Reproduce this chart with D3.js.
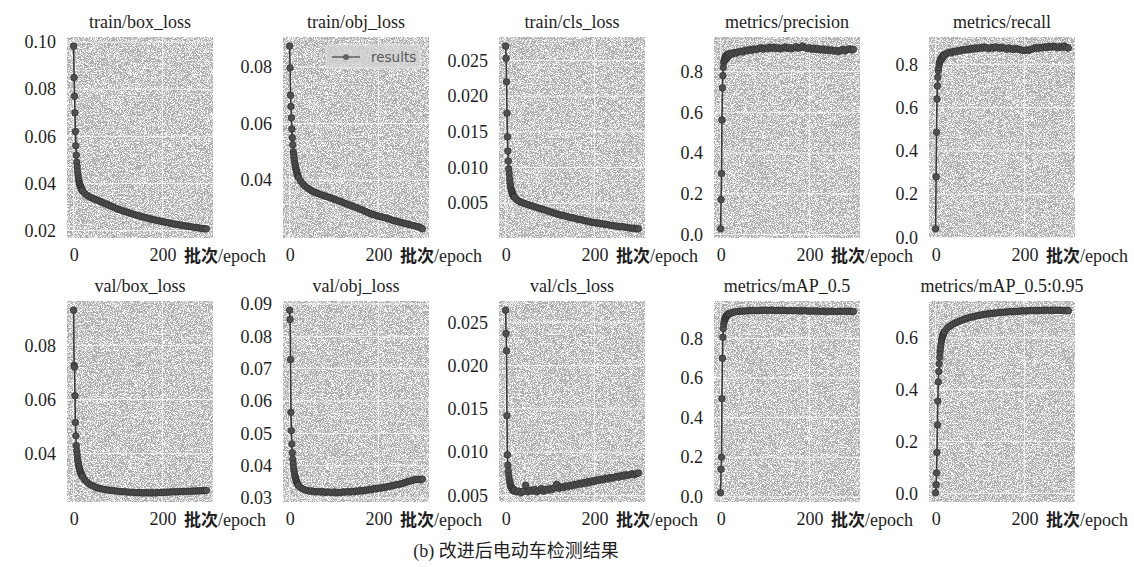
<!DOCTYPE html>
<html>
<head>
<meta charset="utf-8">
<script src="https://cdn.jsdelivr.net/npm/d3@7"></script>
<style>
  body { margin: 0; background: #fff; }
  svg { display: block; }
</style>
</head>
<body>
<svg id="chart" width="1134" height="567"></svg>
<script>
// epochs that were sampled off the picture
const epochs = [0,1,2,3,4,5,6,7,8,9,10,11,12,13,14,15,16,17,18,19,
  20,25,30,35,40,45,50,55,60,65,70,75,80,85,90,95,
  100,105,110,115,120,125,130,135,140,145,150,155,160,165,170,175,
  180,185,190,195,200,205,210,215,220,225,230,235,240,245,250,255,
  260,265,270,275,280,285,290,295,299];

const trainBoxLoss = [0.0983,0.085,0.077,0.070,0.062,0.056,0.052,0.049,0.047,0.045,0.0435,0.042,0.041,0.040,0.0395,0.039,0.0385,0.038,0.0376,0.0372,
  0.0368,0.0358,0.0350,0.0344,0.0339,0.0335,0.0331,0.0327,0.0323,0.0319,0.0315,0.0311,0.0307,0.0303,0.0299,0.0295,
  0.0290,0.0287,0.0284,0.0281,0.0278,0.0275,0.0272,0.0269,0.0266,0.0263,0.0261,0.0258,0.0256,0.0253,0.0251,0.0248,
  0.0246,0.0244,0.0242,0.0240,0.0238,0.0236,0.0234,0.0232,0.0230,0.0228,0.0226,0.0225,0.0223,0.0222,0.0220,0.0219,
  0.0217,0.0216,0.0214,0.0213,0.0212,0.0210,0.0209,0.0208,0.0207];

const trainObjLoss = [0.0873,0.0796,0.0700,0.0660,0.0620,0.0580,0.0550,0.0525,0.0500,0.0490,0.0480,0.0468,0.0458,0.0449,0.0441,0.0434,0.0428,0.0422,0.0417,0.0413,
  0.0409,0.0396,0.0386,0.0378,0.0372,0.0367,0.0362,0.0358,0.0355,0.0352,0.0349,0.0346,0.0344,0.0341,0.0339,0.0336,
  0.0333,0.0330,0.0327,0.0324,0.0321,0.0318,0.0315,0.0312,0.0309,0.0306,0.0303,0.0300,0.0297,0.0294,0.0290,0.0287,
  0.0283,0.0280,0.0278,0.0275,0.0273,0.0271,0.0269,0.0267,0.0265,0.0262,0.0259,0.0257,0.0255,0.0253,0.0251,0.0249,
  0.0247,0.0245,0.0243,0.0241,0.0239,0.0237,0.0235,0.0232,0.0228];

const trainClsLoss = [0.0270,0.0253,0.0220,0.0176,0.0143,0.0123,0.0109,0.0098,0.0091,0.0084,0.0078,0.0074,0.0071,0.0068,0.0066,0.0064,0.0062,0.0061,0.0060,0.0059,
  0.0058,0.0055,0.0053,0.0051,0.0050,0.0049,0.0048,0.0047,0.0046,0.0045,0.0044,0.0043,0.0042,0.0041,0.0040,0.0039,
  0.0038,0.0037,0.0036,0.0035,0.0034,0.0033,0.0033,0.0032,0.0031,0.0030,0.0030,0.0029,0.0028,0.0027,0.0027,0.0026,
  0.0025,0.0025,0.0024,0.0023,0.0023,0.0022,0.0022,0.0021,0.0021,0.0020,0.0020,0.0019,0.0019,0.0018,0.0018,0.0017,
  0.0017,0.0017,0.0016,0.0016,0.0015,0.0015,0.0015,0.0014,0.0014];

const precision = [0.028,0.172,0.300,0.563,0.720,0.780,0.820,0.845,0.855,0.860,0.870,0.858,0.878,0.865,0.880,0.872,0.884,0.876,0.886,0.880,
  0.889,0.885,0.893,0.890,0.897,0.900,0.896,0.905,0.902,0.908,0.904,0.911,0.907,0.913,0.918,0.910,
  0.916,0.912,0.919,0.914,0.920,0.913,0.917,0.911,0.916,0.921,0.914,0.918,0.912,0.917,0.922,0.915,
  0.919,0.925,0.917,0.913,0.918,0.910,0.915,0.908,0.913,0.906,0.911,0.904,0.909,0.902,0.907,0.900,
  0.905,0.898,0.904,0.909,0.902,0.907,0.912,0.906,0.910];

const recall = [0.040,0.280,0.486,0.640,0.700,0.740,0.770,0.785,0.800,0.808,0.815,0.820,0.825,0.822,0.830,0.835,0.832,0.840,0.838,0.845,
  0.842,0.850,0.855,0.852,0.860,0.858,0.864,0.861,0.868,0.865,0.871,0.867,0.874,0.870,0.876,0.872,
  0.878,0.874,0.880,0.876,0.872,0.878,0.875,0.881,0.877,0.873,0.879,0.875,0.870,0.876,0.872,0.868,
  0.874,0.870,0.868,0.865,0.863,0.867,0.864,0.869,0.873,0.877,0.873,0.879,0.875,0.881,0.877,0.883,
  0.879,0.884,0.880,0.876,0.882,0.878,0.884,0.879,0.875];

const valBoxLoss = [0.0930,0.0726,0.0720,0.0614,0.0515,0.0466,0.0430,0.0410,0.0395,0.0380,0.0370,0.0360,0.0352,0.0345,0.0339,0.0334,0.0329,0.0325,0.0321,0.0318,
  0.0315,0.0303,0.0295,0.0288,0.0283,0.0279,0.0276,0.0273,0.0271,0.0269,0.0267,0.0266,0.0265,0.0264,0.0263,0.0262,
  0.0261,0.0260,0.0259,0.0259,0.0258,0.0258,0.0257,0.0257,0.0256,0.0256,0.0256,0.0255,0.0255,0.0255,0.0255,0.0255,
  0.0255,0.0255,0.0256,0.0256,0.0256,0.0257,0.0257,0.0258,0.0258,0.0259,0.0259,0.0259,0.0260,0.0260,0.0260,0.0261,
  0.0261,0.0261,0.0262,0.0262,0.0262,0.0263,0.0263,0.0263,0.0264];

const valObjLoss = [0.0881,0.0852,0.0728,0.0565,0.0508,0.0467,0.0440,0.0420,0.0405,0.0393,0.0383,0.0375,0.0368,0.0362,0.0357,0.0353,0.0349,0.0346,0.0343,0.0341,
  0.0339,0.0332,0.0328,0.0325,0.0323,0.0321,0.0322,0.0320,0.0319,0.0321,0.0318,0.0320,0.0317,0.0319,0.0318,0.0317,
  0.0319,0.0316,0.0318,0.0317,0.0319,0.0318,0.0320,0.0318,0.0321,0.0319,0.0322,0.0321,0.0324,0.0322,0.0325,0.0324,
  0.0327,0.0326,0.0329,0.0328,0.0331,0.0330,0.0333,0.0333,0.0335,0.0336,0.0338,0.0339,0.0341,0.0342,0.0344,0.0345,
  0.0348,0.0350,0.0352,0.0354,0.0356,0.0357,0.0358,0.0357,0.0359];

const valClsLoss = [0.0264,0.0237,0.0217,0.0142,0.0097,0.0085,0.0078,0.0073,0.0069,0.0066,0.0064,0.0062,0.0060,0.0059,0.0058,0.0057,0.0058,0.0056,0.0057,0.0055,
  0.0056,0.0054,0.0055,0.0053,0.0055,0.0062,0.0054,0.0056,0.0055,0.0057,0.0054,0.0056,0.0058,0.0055,0.0057,0.0056,
  0.0058,0.0057,0.0059,0.0063,0.0058,0.0060,0.0059,0.0061,0.0060,0.0062,0.0061,0.0063,0.0062,0.0064,0.0063,0.0065,
  0.0064,0.0066,0.0065,0.0067,0.0066,0.0068,0.0067,0.0069,0.0068,0.0070,0.0069,0.0071,0.0070,0.0071,0.0072,0.0071,
  0.0073,0.0072,0.0074,0.0073,0.0074,0.0075,0.0074,0.0075,0.0076];

const mAP50 = [0.020,0.139,0.200,0.495,0.700,0.806,0.850,0.872,0.886,0.895,0.901,0.906,0.910,0.913,0.916,0.918,0.920,0.922,0.924,0.925,
  0.926,0.930,0.933,0.935,0.936,0.937,0.938,0.939,0.940,0.940,0.941,0.941,0.942,0.941,0.942,0.942,
  0.943,0.942,0.942,0.943,0.942,0.941,0.942,0.941,0.942,0.941,0.940,0.941,0.940,0.941,0.940,0.939,
  0.940,0.939,0.940,0.939,0.938,0.939,0.938,0.939,0.938,0.937,0.938,0.937,0.938,0.937,0.938,0.937,
  0.936,0.937,0.938,0.937,0.938,0.937,0.938,0.937,0.936];

const mAP5095 = [0.002,0.033,0.079,0.158,0.264,0.356,0.430,0.470,0.500,0.525,0.545,0.560,0.575,0.588,0.596,0.603,0.608,0.613,0.617,0.621,
  0.624,0.635,0.643,0.649,0.654,0.658,0.662,0.666,0.669,0.672,0.675,0.678,0.680,0.682,0.684,0.686,
  0.688,0.689,0.691,0.692,0.693,0.694,0.695,0.696,0.697,0.698,0.699,0.699,0.700,0.701,0.701,0.702,
  0.702,0.703,0.703,0.704,0.704,0.704,0.705,0.705,0.705,0.706,0.706,0.706,0.706,0.707,0.707,0.706,
  0.707,0.706,0.707,0.706,0.707,0.706,0.705,0.706,0.705];

const titles = ["train/box_loss","train/obj_loss","train/cls_loss","metrics/precision","metrics/recall",
  "val/box_loss","val/obj_loss","val/cls_loss","metrics/mAP_0.5","metrics/mAP_0.5:0.95"];
const series = [trainBoxLoss, trainObjLoss, trainClsLoss, precision, recall,
  valBoxLoss, valObjLoss, valClsLoss, mAP50, mAP5095];
const yTicks = [
  [0.02,0.04,0.06,0.08,0.10], [0.04,0.06,0.08], [0.005,0.010,0.015,0.020,0.025],
  [0.0,0.2,0.4,0.6,0.8], [0.0,0.2,0.4,0.6,0.8],
  [0.04,0.06,0.08], [0.03,0.04,0.05,0.06,0.07,0.08,0.09], [0.005,0.010,0.015,0.020,0.025],
  [0.0,0.2,0.4,0.6,0.8], [0.0,0.2,0.4,0.6]];
const yFormats = [".2f",".2f",".3f",".1f",".1f",".2f",".2f",".3f",".1f",".1f"];
const xTicks = [0, 200];
const legendLabel = "results";
const xLabelBold = "批次";
const xLabelRest = "/epoch";
const caption = "(b) 改进后电动车检测结果";

const svg = d3.select("#chart");
const lefts = [67, 283, 499, 714, 929];
const tops = [37, 301];
const pw = 146, ph = 201;
const serif = '"Liberation Serif", "Times New Roman", serif';
const ink = "#1e1e1e";

// halftone-ish speckle like the scanned figure
const defs = svg.append("defs");
const grain = defs.append("filter").attr("id", "grain")
  .attr("x", 0).attr("y", 0).attr("width", 1).attr("height", 1);
grain.append("feTurbulence").attr("type", "fractalNoise")
  .attr("baseFrequency", 1.3).attr("numOctaves", 1).attr("seed", 7);
grain.append("feColorMatrix").attr("type", "matrix")
  .attr("values", "0 0 0 0 1  0 0 0 0 1  0 0 0 0 1  7 0 0 0 -3.2");

const xMax = d3.max(epochs);
const line = d3.line();

series.forEach((vals, i) => {
  const left = lefts[i % 5], top = tops[Math.floor(i / 5)];
  const x = d3.scaleLinear().domain([-0.05 * xMax, 1.05 * xMax]).range([left, left + pw]);
  const [lo, hi] = d3.extent(vals);
  const pad = (hi - lo) * 0.05;
  const y = d3.scaleLinear().domain([lo - pad, hi + pad]).range([top + ph, top]);

  const g = svg.append("g");
  g.append("rect").attr("x", left).attr("y", top).attr("width", pw).attr("height", ph)
    .attr("fill", "#acacac");
  g.append("rect").attr("x", left).attr("y", top).attr("width", pw).attr("height", ph)
    .attr("fill", "#fff").attr("filter", "url(#grain)");

  // grid
  g.selectAll(".gy").data(yTicks[i]).join("line")
    .attr("x1", left).attr("x2", left + pw)
    .attr("y1", d => y(d)).attr("y2", d => y(d))
    .attr("stroke", "#fff").attr("stroke-opacity", 0.7).attr("stroke-width", 1);
  g.selectAll(".gx").data(xTicks).join("line")
    .attr("x1", d => x(d)).attr("x2", d => x(d))
    .attr("y1", top).attr("y2", top + ph)
    .attr("stroke", "#fff").attr("stroke-opacity", 0.7).attr("stroke-width", 1);

  const pts = epochs.map((e, k) => [x(e), y(vals[k])]);
  g.append("path").attr("d", line(pts)).attr("fill", "none")
    .attr("stroke", "#3a3a3a").attr("stroke-width", 1.6);
  g.selectAll("circle").data(pts).join("circle")
    .attr("cx", d => d[0]).attr("cy", d => d[1]).attr("r", 3.3)
    .attr("fill", "#505050").attr("stroke", "#2e2e2e").attr("stroke-width", 0.7);

  // axes
  g.append("g").attr("transform", `translate(${left},0)`)
    .call(d3.axisLeft(y).tickValues(yTicks[i]).tickFormat(d3.format(yFormats[i])).tickSize(0).tickPadding(11))
    .call(a => a.select(".domain").remove())
    .attr("font-family", serif).attr("font-size", 18)
    .call(a => a.selectAll("text").attr("fill", ink));
  g.append("g").attr("transform", `translate(0,${top + ph})`)
    .call(d3.axisBottom(x).tickValues(xTicks).tickFormat(d3.format("d")).tickSize(0).tickPadding(10))
    .call(a => a.select(".domain").remove())
    .attr("font-family", serif).attr("font-size", 18)
    .call(a => a.selectAll("text").attr("fill", ink));

  g.append("text").attr("x", left + pw / 2).attr("y", top - 9)
    .attr("text-anchor", "middle").attr("font-family", serif).attr("font-size", 18)
    .attr("fill", ink).text(titles[i]);

  const xl = g.append("text").attr("x", left + 117).attr("y", top + ph + 24)
    .attr("font-family", serif).attr("font-size", 18).attr("fill", ink);
  xl.append("tspan").attr("font-family", '"Noto Sans CJK SC", sans-serif')
    .attr("font-weight", "bold").attr("font-size", 17).text(xLabelBold);
  xl.append("tspan").text(xLabelRest);

  if (i === 1) {
    const lx = left + 43, ly = top + 8;
    g.append("rect").attr("x", lx).attr("y", ly).attr("width", 94).attr("height", 23)
      .attr("rx", 2).attr("fill", "#d2d2d2").attr("fill-opacity", 0.75)
      .attr("stroke", "#e4e4e4").attr("stroke-width", 1);
    g.append("line").attr("x1", lx + 6).attr("x2", lx + 34).attr("y1", ly + 12).attr("y2", ly + 12)
      .attr("stroke", "#555").attr("stroke-width", 1.4);
    g.append("circle").attr("cx", lx + 20).attr("cy", ly + 12).attr("r", 2.6)
      .attr("fill", "#666").attr("stroke", "#444").attr("stroke-width", 0.6);
    g.append("text").attr("x", lx + 45).attr("y", ly + 16.5)
      .attr("font-family", '"DejaVu Sans", sans-serif').attr("font-size", 13.5)
      .attr("fill", "#5a5a5a").text(legendLabel);
  }
});

svg.append("text").attr("x", 516).attr("y", 557).attr("text-anchor", "middle")
  .attr("font-family", '"Liberation Serif", "Noto Sans CJK SC", serif').attr("font-size", 18)
  .attr("fill", ink).text(caption);
</script>
</body>
</html>
